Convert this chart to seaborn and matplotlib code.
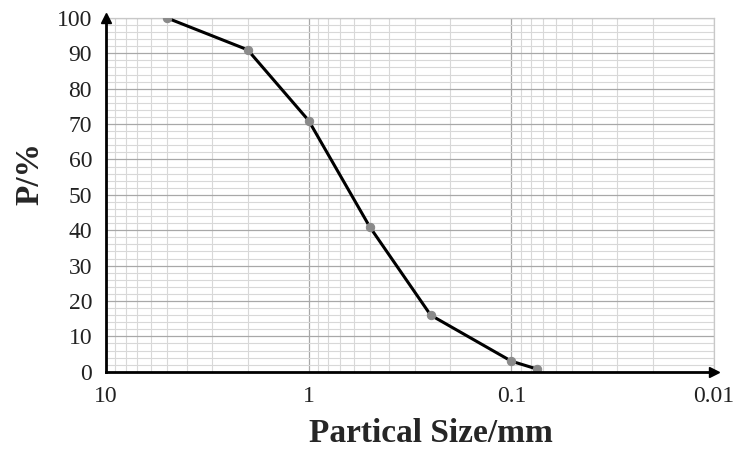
import numpy as np
import pandas as pd
import seaborn as sns
import matplotlib.pyplot as plt
from matplotlib.ticker import FixedLocator, MultipleLocator, LogLocator, NullFormatter

# particle size distribution
sizes = [5, 2, 1, 0.5, 0.25, 0.1, 0.075]
passing = [100, 91, 71, 41, 16, 3, 0.8]
x_ticks = [10, 1, 0.1, 0.01]
x_tick_labels = ["10", "1", "0.1", "0.01"]
y_ticks = list(range(0, 101, 10))

df = pd.DataFrame({"size": sizes, "passing": passing})

sns.set_style("white")
plt.rcParams["font.family"] = ["Liberation Serif", "DejaVu Serif"]

fig = plt.figure(figsize=(7.37, 4.49), dpi=100)
ax = fig.add_axes([0.1438, 0.172, 0.8250, 0.788])

sns.lineplot(data=df, x="size", y="passing", ax=ax, color="black", linewidth=2.2,
             marker="o", markersize=6, markerfacecolor="#8a8a8a",
             markeredgecolor="#8a8a8a", zorder=3, sort=False)

ax.set_xscale("log")
ax.set_xlim(10, 0.01)
ax.set_ylim(0, 100)

ax.xaxis.set_major_locator(FixedLocator(x_ticks))
ax.set_xticks(x_ticks)
ax.set_xticklabels(x_tick_labels)
ax.xaxis.set_minor_locator(LogLocator(base=10, subs=np.arange(2, 10)))
ax.xaxis.set_minor_formatter(NullFormatter())
ax.set_yticks(y_ticks)
ax.yaxis.set_minor_locator(MultipleLocator(2))

ax.grid(which="major", color="#a8a8a8", linewidth=0.9)
ax.grid(which="minor", color="#d8d8d8", linewidth=0.8)
ax.set_axisbelow(True)

ax.tick_params(axis="both", which="both", length=0, labelsize=17, labelcolor="#222222")
ax.tick_params(axis="x", pad=10)
ax.tick_params(axis="y", pad=10)

for side in ["top", "right"]:
    ax.spines[side].set_color("#c8c8c8")
    ax.spines[side].set_linewidth(0.9)
for side in ["left", "bottom"]:
    ax.spines[side].set_color("black")
    ax.spines[side].set_linewidth(2)
    ax.spines[side].set_zorder(4)

# arrow heads on the two main axes
ax.plot(1, 0, ">", color="black", markersize=7, transform=ax.transAxes, clip_on=False, zorder=5)
ax.plot(0, 1, "^", color="black", markersize=7, transform=ax.transAxes, clip_on=False, zorder=5)

ax.set_xlabel("Partical Size/mm", fontsize=24, fontweight="bold")
ax.set_ylabel("P/%", fontsize=24, fontweight="bold")
ax.xaxis.set_label_coords(0.535, -0.13)
ax.yaxis.set_label_coords(-0.10, 0.56)

fig.savefig("out.png", dpi=100)
